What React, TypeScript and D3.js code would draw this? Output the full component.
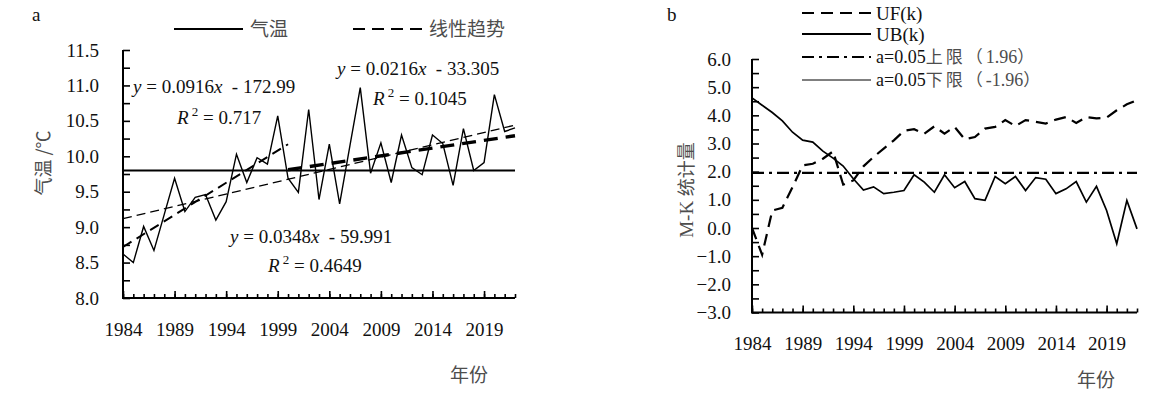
import { useEffect, useRef } from "react";
import * as d3 from "d3";

const years = [
  1984, 1985, 1986, 1987, 1988, 1989, 1990, 1991, 1992, 1993, 1994, 1995, 1996,
  1997, 1998, 1999, 2000, 2001, 2002, 2003, 2004, 2005, 2006, 2007, 2008, 2009,
  2010, 2011, 2012, 2013, 2014, 2015, 2016, 2017, 2018, 2019, 2020, 2021, 2022,
];
const labelYears = [1984, 1989, 1994, 1999, 2004, 2009, 2014, 2019];

// panel a: annual mean temperature
const temperature = [
  8.62, 8.5, 9.01, 8.67, 9.18, 9.69, 9.22, 9.42, 9.46, 9.1, 9.36, 10.03, 9.63,
  9.98, 9.89, 10.57, 9.69, 9.49, 10.66, 9.39, 10.17, 9.33, 10.15, 10.97, 9.76,
  10.19, 9.63, 10.3, 9.84, 9.74, 10.3, 10.18, 9.59, 10.39, 9.8, 9.91, 10.87,
  10.35, 10.4,
];
const meanTemperature = 9.8;
const trendEarlyYears = [1984, 2000];
const trendEarlyValues = [8.72, 10.17];
const trendAllYears = [1984, 2022];
const trendAllValues = [9.12, 10.44];
const trendLateYears = [2000, 2022];
const trendLateValues = [9.81, 10.29];
const tempTicks = [8.0, 8.5, 9.0, 9.5, 10.0, 10.5, 11.0, 11.5];

// panel b: Mann-Kendall statistics
const ufValues = [
  0.0, -0.95, 0.62, 0.72, 1.45, 2.22, 2.28, 2.46, 2.72, 1.54, 1.69, 2.19, 2.52,
  2.82, 3.11, 3.45, 3.51, 3.35, 3.61, 3.35, 3.59, 3.15, 3.23, 3.53, 3.59, 3.83,
  3.62, 3.83, 3.77, 3.71, 3.85, 3.94, 3.73, 3.94, 3.89, 3.92, 4.18, 4.39, 4.54,
];
const ubValues = [
  4.62, 4.36, 4.1, 3.8, 3.4, 3.12, 3.05, 2.73, 2.48, 2.2, 1.75, 1.35, 1.46,
  1.22, 1.27, 1.33, 1.89, 1.63, 1.27, 1.89, 1.43, 1.65, 1.04, 0.98, 1.83, 1.57,
  1.83, 1.33, 1.79, 1.73, 1.22, 1.39, 1.65, 0.92, 1.48, 0.62, -0.56, 0.98, -0.03,
];
const upperLimit = 1.96;
const mkTicks = [-3, -2, -1, 0, 1, 2, 3, 4, 5, 6];

const SERIF = "'Liberation Serif', 'Times New Roman', serif";
const CJK = "'Noto Sans CJK SC', sans-serif";
const CJK_COLOR = "#4d4d4d";

type G = d3.Selection<SVGGElement, unknown, null, undefined>;

function styleAxis(g: G, size = 19) {
  g.select(".domain").remove();
  g.selectAll(".tick line").attr("stroke", "#000").attr("stroke-width", 1.6);
  g.selectAll("text").attr("font-family", SERIF).attr("font-size", size).attr("fill", "#111");
}

function drawAxes(g: G, x: d3.ScalePoint<number>, y: d3.ScaleLinear<number, number>, majorY: number[], step: number, yPad: number, xPad: number) {
  const [x0, x1] = x.range();
  const [y0, y1] = y.range();
  const minorY = d3.range(y.domain()[0], y.domain()[1] + step / 2, step);

  g.append("g").attr("transform", `translate(${x0},0)`)
    .call(d3.axisLeft(y).tickValues(minorY).tickSize(-7).tickFormat(() => ""))
    .call(styleAxis);
  g.append("g").attr("transform", `translate(${x0},0)`)
    .call(d3.axisLeft(y).tickValues(majorY).tickSize(0).tickPadding(yPad).tickFormat(d3.format(".1f")))
    .call(styleAxis);

  g.append("g").attr("transform", `translate(0,${y0})`)
    .call(d3.axisBottom(x).tickValues(years).tickSize(-4).tickFormat(() => ""))
    .call(styleAxis);
  g.append("g").attr("transform", `translate(0,${y0})`)
    .call(d3.axisBottom(x).tickValues(labelYears).tickSize(-7).tickPadding(xPad).tickFormat(d3.format("d")))
    .call(styleAxis);

  g.append("path")
    .attr("d", `M${x0},${y1}V${y0}H${x1}`)
    .attr("fill", "none").attr("stroke", "#000").attr("stroke-width", 2);
}

function equation(g: G, px: number, py: number, slope: string, intercept: string) {
  const t = g.append("text").attr("x", px).attr("y", py)
    .attr("font-family", SERIF).attr("font-size", 19).attr("fill", "#111")
    .style("white-space", "pre");
  t.append("tspan").attr("font-style", "italic").text("y");
  t.append("tspan").text(` = ${slope}`);
  t.append("tspan").attr("font-style", "italic").text("x");
  t.append("tspan").text(`  - ${intercept}`);
}

function rSquared(g: G, px: number, py: number, value: string) {
  const t = g.append("text").attr("x", px).attr("y", py)
    .attr("font-family", SERIF).attr("font-size", 19).attr("fill", "#111")
    .style("white-space", "pre");
  t.append("tspan").attr("font-style", "italic").text("R");
  t.append("tspan").attr("font-size", 13).attr("dy", -8).text(" 2");
  t.append("tspan").attr("dy", 8).text(` = ${value}`);
}

function drawTemperature(g: G) {
  const x = d3.scalePoint<number>().domain(years).range([123, 515]);
  const y = d3.scaleLinear().domain([8, 11.5]).range([298, 50]);

  drawAxes(g, x, y, tempTicks, 0.25, 24, 25);

  const line = d3.line<number>().x((d, i) => x(years[i])!).y((d) => y(d));

  g.append("line")
    .attr("x1", x(years[0])!).attr("x2", x(years[years.length - 1])!)
    .attr("y1", y(meanTemperature)).attr("y2", y(meanTemperature))
    .attr("stroke", "#000").attr("stroke-width", 2);

  const trendPath = (yrs: number[], vals: number[], width: number, dash: string) =>
    g.append("path")
      .attr("d", d3.line<number>().x((d) => x(d)!).y((d, i) => y(vals[i]))(yrs))
      .attr("fill", "none").attr("stroke", "#000")
      .attr("stroke-width", width).attr("stroke-dasharray", dash);

  trendPath(trendAllYears, trendAllValues, 1.3, "9,5");
  trendPath(trendEarlyYears, trendEarlyValues, 2, "10,6");
  trendPath(trendLateYears, trendLateValues, 3.4, "14,8");

  g.append("path").attr("d", line(temperature)!)
    .attr("fill", "none").attr("stroke", "#000").attr("stroke-width", 1.4)
    .attr("stroke-linejoin", "miter");

  equation(g, 133, 93, "0.0916", "172.99");
  rSquared(g, 177, 124, "0.717");
  equation(g, 337, 75, "0.0216", "33.305");
  rSquared(g, 373, 105, "0.1045");
  equation(g, 230, 243, "0.0348", "59.991");
  rSquared(g, 268, 272, "0.4649");

  // legend
  g.append("line").attr("x1", 174).attr("x2", 243).attr("y1", 29).attr("y2", 29)
    .attr("stroke", "#000").attr("stroke-width", 2);
  g.append("text").attr("x", 250).attr("y", 29).attr("dy", "0.35em")
    .attr("font-family", CJK).attr("font-size", 19).attr("fill", CJK_COLOR).text("气温");
  g.append("line").attr("x1", 353).attr("x2", 422).attr("y1", 29).attr("y2", 29)
    .attr("stroke", "#000").attr("stroke-width", 2).attr("stroke-dasharray", "12,7");
  g.append("text").attr("x", 429).attr("y", 29).attr("dy", "0.35em")
    .attr("font-family", CJK).attr("font-size", 19).attr("fill", CJK_COLOR).text("线性趋势");

  g.append("text").attr("x", 32).attr("y", 21)
    .attr("font-family", SERIF).attr("font-size", 19).attr("fill", "#111").text("a");
  g.append("text").attr("transform", "translate(44,163) rotate(-90)")
    .attr("text-anchor", "middle").attr("dy", "0.35em")
    .attr("font-family", CJK).attr("font-size", 18).attr("fill", CJK_COLOR).text("气温 /℃");
  g.append("text").attr("x", 450).attr("y", 375).attr("dy", "0.35em")
    .attr("font-family", CJK).attr("font-size", 19).attr("fill", CJK_COLOR).text("年份");
}

function drawMannKendall(g: G) {
  const x = d3.scalePoint<number>().domain(years).range([752, 1137]);
  const y = d3.scaleLinear().domain([-3, 6]).range([312.5, 59]);

  drawAxes(g, x, y, mkTicks, 0.5, 21, 24);

  const line = d3.line<number>().x((d, i) => x(years[i])!).y((d) => y(d));

  g.append("line")
    .attr("x1", x(years[0])!).attr("x2", x(years[years.length - 1])!)
    .attr("y1", y(upperLimit)).attr("y2", y(upperLimit))
    .attr("stroke", "#000").attr("stroke-width", 2.2).attr("stroke-dasharray", "12,5,3,5");

  g.append("path").attr("d", line(ufValues)!)
    .attr("fill", "none").attr("stroke", "#000").attr("stroke-width", 2.2)
    .attr("stroke-dasharray", "12,7");
  g.append("path").attr("d", line(ubValues)!)
    .attr("fill", "none").attr("stroke", "#000").attr("stroke-width", 1.7);

  // legend
  const rows: [number, number, string][] = [
    [13, 2.2, "12,7"],
    [34, 2, ""],
    [57, 2.2, "12,5,3,5"],
    [80, 1, ""],
  ];
  rows.forEach(([ly, w, dash]) => {
    g.append("line").attr("x1", 802).attr("x2", 871).attr("y1", ly).attr("y2", ly)
      .attr("stroke", "#000").attr("stroke-width", w).attr("stroke-dasharray", dash || null);
  });
  const txt = (ly: number, size = 19) =>
    g.append("text").attr("x", 876).attr("y", ly).attr("dy", "0.35em")
      .attr("font-family", SERIF).attr("font-size", size).attr("fill", "#111");
  txt(13).text("UF(k)");
  txt(34).text("UB(k)");
  const limitRow = (ly: number, word: string, value: string) => {
    const t = txt(ly, 18);
    t.append("tspan").text("a=0.05");
    t.append("tspan").attr("font-family", CJK).attr("fill", CJK_COLOR).attr("font-size", 17)
      .attr("letter-spacing", 3).text(`${word}（`);
    t.append("tspan").attr("fill", CJK_COLOR).text(value);
    t.append("tspan").attr("font-family", CJK).attr("fill", CJK_COLOR).attr("font-size", 17).text("）");
  };
  limitRow(57, "上限", "1.96");
  limitRow(80, "下限", "-1.96");

  g.append("text").attr("x", 667).attr("y", 21)
    .attr("font-family", SERIF).attr("font-size", 19).attr("fill", "#111").text("b");
  const yt = g.append("text").attr("transform", "translate(687,190) rotate(-90)")
    .attr("text-anchor", "middle").attr("dy", "0.35em")
    .attr("font-size", 18).attr("fill", CJK_COLOR);
  yt.append("tspan").attr("font-family", SERIF).attr("font-size", 19).text("M-K ");
  yt.append("tspan").attr("font-family", CJK).text("统计量");
  g.append("text").attr("x", 1077).attr("y", 380).attr("dy", "0.35em")
    .attr("font-family", CJK).attr("font-size", 19).attr("fill", CJK_COLOR).text("年份");
}

export default function App() {
  const svgRef = useRef<SVGSVGElement>(null);

  useEffect(() => {
    const svg = d3.select(svgRef.current);
    svg.selectAll("*").remove();
    drawTemperature(svg.append("g") as unknown as G);
    drawMannKendall(svg.append("g") as unknown as G);
  }, []);

  return (
    <div style={{ position: "absolute", left: 0, top: 0 }}>
      <svg ref={svgRef} width={1162} height={398} style={{ display: "block", background: "#fff" }} />
    </div>
  );
}
